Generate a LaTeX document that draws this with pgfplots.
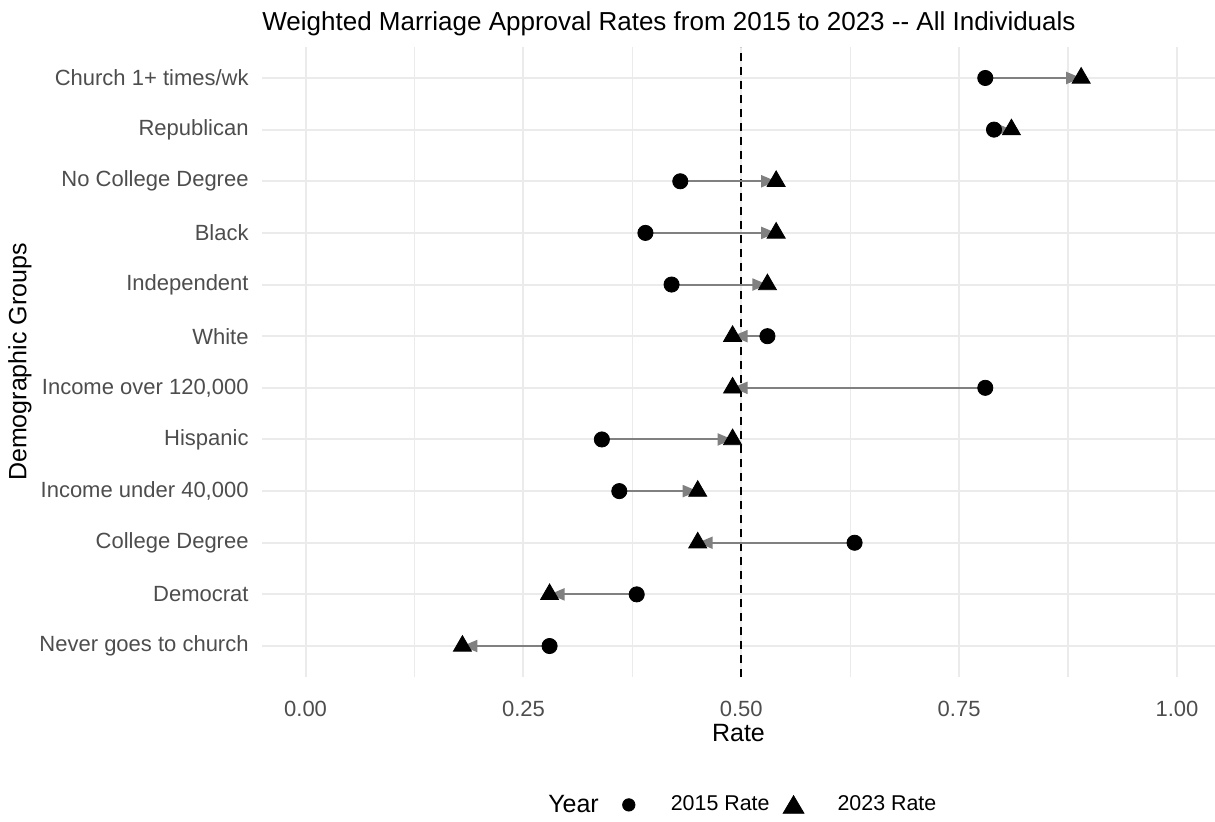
\documentclass[border=0pt]{standalone}
\usepackage{fontspec}
\setmainfont{Liberation Sans}
\usepackage{pgfplots}
\usepackage{pgfplotstable}
\pgfplotsset{compat=1.18}
\usetikzlibrary{arrows.meta}
\definecolor{gtick}{HTML}{4D4D4D}
\definecolor{ggrid}{HTML}{EBEBEB}
\definecolor{garrow}{HTML}{808080}

\pgfplotstableread{
y x15 x23
12 0.78 0.89
11 0.79 0.81
10 0.43 0.54
9 0.39 0.54
8 0.42 0.53
7 0.53 0.49
6 0.78 0.49
5 0.34 0.49
4 0.36 0.45
3 0.63 0.45
2 0.38 0.28
1 0.28 0.18
}\datatable

\begin{document}
\begin{tikzpicture}
\begin{axis}[
  scale only axis, width=476.5pt, height=315pt,
  xmin=-0.05, xmax=1.0436, ymin=0.4, ymax=12.6,
  xtick={0,0.25,0.5,0.75,1},
  xticklabels={0.00,0.25,0.50,0.75,1.00},
  minor xtick={0.125,0.375,0.625,0.875},
  ytick={1,...,12},
  yticklabels={{Never goes to church},{Democrat},{College Degree},{Income under 40,000},{Hispanic},{Income over 120,000},{White},{Independent},{Black},{No College Degree},{Republican},{Church 1+ times/wk}},
  grid=both,
  major grid style={color=ggrid, line width=1pt},
  minor grid style={color=ggrid, line width=0.6pt},
  axis line style={draw=none},
  major tick length=0pt, minor tick length=0pt,
  tick label style={font=\fontsize{11}{13}\selectfont, text=gtick},
  xticklabel style={anchor=center, inner sep=0pt, yshift=-16pt},
  yticklabel style={anchor=east, inner sep=0pt, xshift=-6.5pt},
  title={Weighted Marriage Approval Rates from 2015 to 2023 -{}- All Individuals},
  title style={at={(axis description cs:0,1)}, anchor=base west, inner sep=0pt, yshift=2pt, font=\fontsize{13}{15}\selectfont},
  xlabel={Rate},
  xlabel style={at={(axis description cs:0.5,0)}, anchor=center, inner sep=0pt, yshift=-28pt, font=\fontsize{12.5}{14}\selectfont},
  ylabel={Demographic Groups},
  ylabel style={at={(axis description cs:-0.2539,0.5)}, anchor=center, inner sep=0pt, font=\fontsize{12.5}{14}\selectfont},
  legend columns=3,
  legend cell align=left,
  legend style={draw=none, fill=none, at={(axis description cs:0.504,-0.203)}, anchor=center,
    font=\fontsize{10.7}{12}\selectfont, inner sep=0pt,
    nodes={inner sep=0pt},
    /tikz/column sep=0pt},
]
\draw[black, line width=0.9pt, dash pattern=on 4pt off 3pt] (axis cs:0.5,0.4) -- (axis cs:0.5,12.6);
\addplot[only marks, mark=*, mark size=3.8pt, black, forget plot] table[x=x15, y=y] {\datatable};
\addplot[only marks, mark=triangle*, mark size=5.2pt, black, forget plot] table[x=x23, y=y] {\datatable};
\addplot[garrow, line width=1pt, -{Triangle[length=7.5pt,width=6pt]}, forget plot,
  quiver={u=\thisrow{x23}-\thisrow{x15}, v=0}] table[x=x15, y=y] {\datatable};
\addlegendimage{empty legend}
\addlegendimage{legend image code/.code={\path[draw=none,fill=none] (-15pt,0pt) -- (21pt,0pt); \fill[black] (0pt,0pt) circle (3.1pt);}}
\addlegendimage{legend image code/.code={\path[draw=none,fill=none] (-12pt,0pt) -- (22pt,0pt); \fill[black] (0pt,4.6pt) -- (-5.2pt,-4.2pt) -- (5.2pt,-4.2pt) -- cycle;}}
\legend{{\fontsize{12.5}{14}\selectfont Year}, 2015 Rate, 2023 Rate}
\end{axis}
\pgfresetboundingbox
\path[use as bounding box] (-131pt,-72pt) rectangle (476.5pt,338.5pt);
\end{tikzpicture}
\end{document}
